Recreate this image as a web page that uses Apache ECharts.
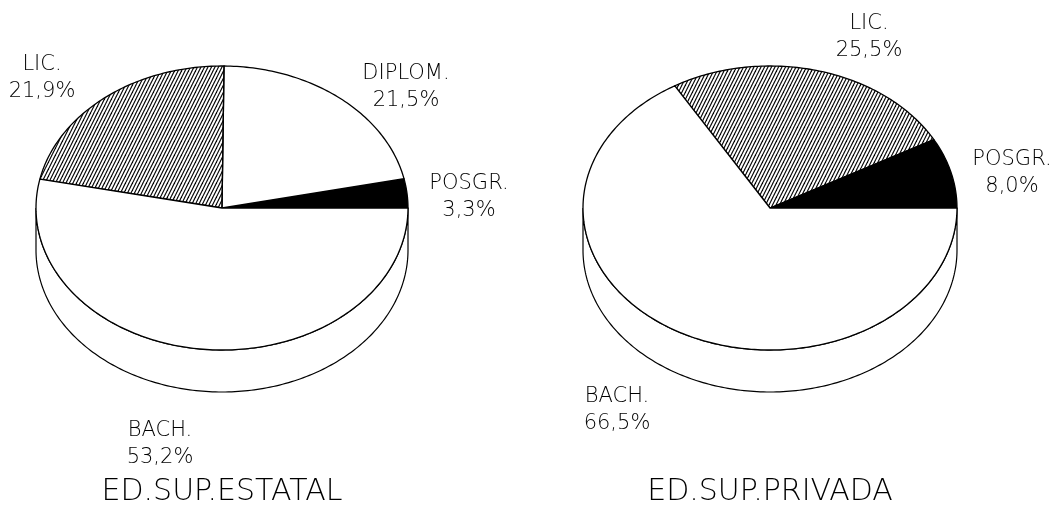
<!DOCTYPE html>
<html>
<head>
<meta charset="utf-8">
<title>ED.SUP.ESTATAL / ED.SUP.PRIVADA</title>
<script src="https://cdn.jsdelivr.net/npm/echarts@6.0.0/dist/echarts.min.js"></script>
<style>
  html, body { margin: 0; padding: 0; background: #fff; }
  #main { width: 1063px; height: 508px; }
</style>
</head>
<body>
<div id="main"></div>
<script>
  // datos
  const titulos = ['ED.SUP.ESTATAL', 'ED.SUP.PRIVADA'];
  const estatalNiveles = ['POSGR.', 'DIPLOM.', 'LIC.', 'BACH.'];
  const estatalPct = [3.3, 21.5, 21.9, 53.2];
  const privadaNiveles = ['POSGR.', 'LIC.', 'BACH.'];
  const privadaPct = [8.0, 25.5, 66.5];

  // geometria de cada torta (px) y posicion de sus rotulos
  const tortas = [
    {cx: 222, cy: 208, rx: 186, ry: 142, depth: 42,
      labels: {'POSGR.': [469, 197], 'DIPLOM.': [406, 87], 'LIC.': [42, 78], 'BACH.': [160, 444]}},
    {cx: 770, cy: 208, rx: 187, ry: 142, depth: 42,
      labels: {'POSGR.': [1012, 173], 'LIC.': [869, 37], 'BACH.': [617, 410]}}
  ];

  const fuente = "'DejaVu Sans', sans-serif";

  // trama rayada para LIC.
  const trama = document.createElement('canvas');
  trama.width = 7;
  trama.height = 14;
  const g = trama.getContext('2d');
  g.strokeStyle = '#000';
  g.lineWidth = 1.2;
  for (let x0 = -7; x0 <= 7; x0 += 3.5) {
    g.beginPath();
    g.moveTo(x0, 14);
    g.lineTo(x0 + 7, 0);
    g.stroke();
  }

  const relleno = {
    'POSGR.': '#000',
    'DIPLOM.': '#fff',
    'LIC.': {image: trama, repeat: 'repeat'},
    'BACH.': '#fff'
  };

  // puntos de un arco de la elipse (angulo en grados, antihorario desde la derecha)
  function arco(p, a0, a1, dy) {
    const pts = [];
    const n = Math.max(2, Math.ceil(Math.abs(a1 - a0)));
    for (let k = 0; k <= n; k++) {
      const a = (a0 + (a1 - a0) * k / n) * Math.PI / 180;
      pts.push([p.cx + p.rx * Math.cos(a), p.cy + dy - p.ry * Math.sin(a)]);
    }
    return pts;
  }

  function serie(idx, niveles, pct) {
    const p = tortas[idx];
    const total = pct.reduce((s, v) => s + v, 0);
    const inicio = [];
    let acc = 0;
    pct.forEach(v => { inicio.push(acc / total * 360); acc += v; });
    return {
      type: 'custom',
      coordinateSystem: 'none',
      silent: true,
      data: pct.map((v, i) => ({name: niveles[i], value: [v, inicio[i]]})),
      renderItem: function (params, api) {
        const v = api.value(0);
        const a0 = api.value(1);
        const a1 = a0 + v / total * 360;
        const nombre = niveles[params.dataIndex];
        const children = [];
        // costado visible (mitad frontal)
        const s0 = Math.max(a0, 180), s1 = Math.min(a1, 360);
        if (s1 > s0) {
          children.push({
            type: 'polygon', z2: 0,
            shape: {points: arco(p, s0, s1, 0).concat(arco(p, s1, s0, p.depth))},
            style: {fill: '#fff', stroke: '#000', lineWidth: 1.2}
          });
        }
        // cara superior
        children.push({
          type: 'polygon', z2: 1,
          shape: {points: [[p.cx, p.cy]].concat(arco(p, a0, a1, 0))},
          style: {fill: relleno[nombre], stroke: '#000', lineWidth: 1.3, lineJoin: 'round'}
        });
        const lp = p.labels[nombre];
        children.push({
          type: 'text', z2: 2, x: lp[0], y: lp[1],
          style: {
            text: nombre + '\n' + v.toFixed(1).replace('.', ',') + '%',
            align: 'center', verticalAlign: 'middle',
            fontFamily: fuente, fontWeight: 200, fontSize: 21, lineHeight: 27,
            fill: '#000'
          }
        });
        return {type: 'group', children: children};
      }
    };
  }

  const chart = echarts.init(document.getElementById('main'));
  chart.setOption({
    backgroundColor: '#fff',
    animation: false,
    graphic: titulos.map((t, i) => ({
      type: 'text',
      x: tortas[i].cx,
      y: 492,
      style: {
        text: t, align: 'center', verticalAlign: 'middle',
        fontFamily: fuente, fontWeight: 200, fontSize: 30, fill: '#000'
      }
    })),
    series: [
      serie(0, estatalNiveles, estatalPct),
      serie(1, privadaNiveles, privadaPct)
    ]
  });
</script>
</body>
</html>
